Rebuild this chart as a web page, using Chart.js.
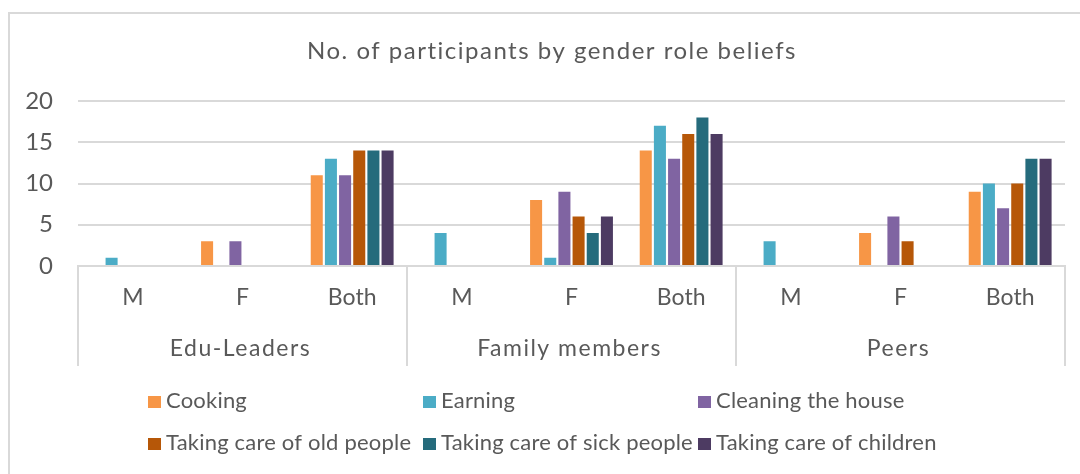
<!DOCTYPE html>
<html>
<head>
<meta charset="utf-8">
<script src="https://cdn.jsdelivr.net/npm/chart.js@4.4.1/dist/chart.umd.min.js"></script>
<style>
  html, body { margin: 0; padding: 0; background: #fff; overflow: hidden; }
  #wrap { position: relative; width: 1080px; height: 474px; }
</style>
</head>
<body>
<div id="wrap"><canvas id="chart" width="1080" height="474"></canvas></div>
<script>
// Respondent groups and the gender each role is attributed to
const groups = ['Edu-Leaders', 'Family members', 'Peers'];
const genders = ['M', 'F', 'Both'];

// Number of participants per role, ordered group by group (M, F, Both)
const cooking    = [0, 3, 11,  0, 8, 14,  0, 4, 9];
const earning    = [1, 0, 13,  4, 1, 17,  3, 0, 10];
const cleaning   = [0, 3, 11,  0, 9, 13,  0, 6, 7];
const oldPeople  = [0, 0, 14,  0, 6, 16,  0, 3, 10];
const sickPeople = [0, 0, 14,  0, 4, 18,  0, 0, 13];
const children   = [0, 0, 14,  0, 6, 16,  0, 0, 13];

const seriesNames = ['Cooking', 'Earning', 'Cleaning the house',
  'Taking care of old people', 'Taking care of sick people', 'Taking care of children'];
const seriesValues = [cooking, earning, cleaning, oldPeople, sickPeople, children];
const seriesColors = ['#F79646', '#4BACC6', '#8064A2', '#B65708', '#256B7C', '#4D3B62'];

const titleText = 'No. of participants by gender role beliefs';
const yMin = 0, yMax = 20, yStep = 5;

const FONT = 'Lato, "Open Sans", sans-serif';
const TEXT = '#595959';
const LINE = '#d9d9d9';

const labels = [];
groups.forEach(() => genders.forEach(g => labels.push(g)));

// Frame, title, group separators, group names and the grid-style legend
const decor = {
  id: 'decor',
  beforeDraw(chart) {
    const ctx = chart.ctx;
    ctx.save();
    ctx.strokeStyle = LINE;
    ctx.lineWidth = 2;
    ctx.strokeRect(9, 13, chart.width + 40, chart.height + 40);

    ctx.fillStyle = TEXT;
    ctx.font = '24px ' + FONT;
    ctx.letterSpacing = '1.5px';
    ctx.textAlign = 'center';
    ctx.textBaseline = 'alphabetic';
    ctx.fillText(titleText, chart.width / 2 + 12, 59);
    ctx.restore();
  },
  afterDraw(chart) {
    const ctx = chart.ctx;
    const x = chart.scales.x;
    const area = chart.chartArea;
    const n = genders.length;
    const half = (x.getPixelForValue(1) - x.getPixelForValue(0)) / 2;

    ctx.save();
    ctx.strokeStyle = LINE;
    ctx.lineWidth = 2;
    for (let g = 0; g <= groups.length; g++) {
      const px = g < groups.length
        ? x.getPixelForValue(g * n) - half
        : x.getPixelForValue(groups.length * n - 1) + half;
      ctx.beginPath();
      ctx.moveTo(px, area.bottom);
      ctx.lineTo(px, area.bottom + 100);
      ctx.stroke();
    }

    ctx.fillStyle = TEXT;
    ctx.font = '23px ' + FONT;
    ctx.letterSpacing = '1.5px';
    ctx.textAlign = 'center';
    ctx.textBaseline = 'alphabetic';
    groups.forEach((name, g) => {
      const cx = (x.getPixelForValue(g * n) + x.getPixelForValue(g * n + n - 1)) / 2;
      ctx.fillText(name, cx - 2, area.bottom + 90);
    });

    // legend: three columns, two rows
    const colW = 275;
    const startX = area.left + 70;
    const baseY = [area.bottom + 142, area.bottom + 184];
    ctx.textAlign = 'left';
    ctx.letterSpacing = '0.2px';
    ctx.font = '22px ' + FONT;
    seriesNames.forEach((name, i) => {
      const col = i % 3, row = Math.floor(i / 3);
      const bx = startX + col * colW;
      const by = baseY[row];
      ctx.fillStyle = seriesColors[i];
      ctx.fillRect(bx, by - 12, 13, 12);
      ctx.fillStyle = TEXT;
      ctx.fillText(name, bx + 18, by);
    });
    ctx.restore();
  }
};

new Chart(document.getElementById('chart'), {
  type: 'bar',
  data: {
    labels: labels,
    datasets: seriesNames.map((name, i) => ({
      label: name,
      data: seriesValues[i],
      backgroundColor: seriesColors[i],
      borderWidth: 0,
      categoryPercentage: 0.775,
      barPercentage: 0.85
    }))
  },
  options: {
    responsive: false,
    animation: false,
    devicePixelRatio: 1,
    layout: { padding: { left: 0, right: 15, top: 101, bottom: 0 } },
    plugins: {
      legend: { display: false },
      tooltip: { enabled: false },
      title: { display: false }
    },
    scales: {
      x: {
        type: 'category',
        offset: true,
        grid: { display: false, drawTicks: false },
        border: { display: true, color: LINE, width: 2 },
        ticks: { color: TEXT, font: { family: FONT, size: 23 }, padding: 18, maxRotation: 0, autoSkip: false },
        afterFit(s) { s.height = 208; }
      },
      y: {
        min: yMin,
        max: yMax,
        ticks: { stepSize: yStep, color: TEXT, font: { family: FONT, size: 24 }, padding: 25 },
        grid: { color: LINE, lineWidth: 2, drawTicks: false },
        border: { display: false },
        afterFit(s) { s.width = 78; }
      }
    }
  },
  plugins: [decor]
});
</script>
</body>
</html>
